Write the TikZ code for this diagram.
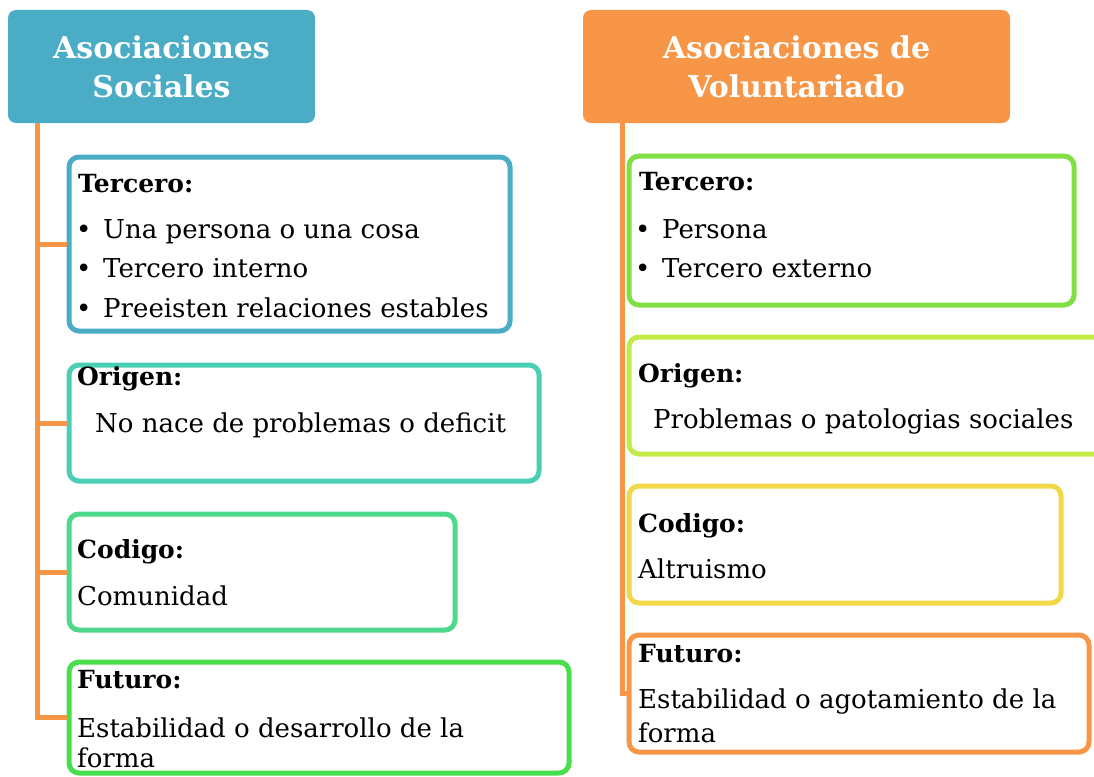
\documentclass[tikz,border=0pt]{standalone}
\usepackage{fontspec}
\setmainfont{DejaVu Serif}
\usetikzlibrary{fit}

\definecolor{hdblue}{HTML}{4BACC6}
\definecolor{hdorange}{HTML}{F79646}
\definecolor{cteal}{HTML}{4BCFB4}
\definecolor{cgreen}{HTML}{4CD98A}
\definecolor{cleaf}{HTML}{48DE4C}
\definecolor{clime}{HTML}{7FE044}
\definecolor{cpale}{HTML}{C2EB48}
\definecolor{cyellow}{HTML}{F0D84A}

\newcommand{\bul}{\makebox[27pt][l]{•}}

\tikzset{
	trunk/.style={draw=hdorange, line width=5pt},
	head/.style={fill=#1, rounded corners=8pt, inner sep=0pt},
	headtxt/.style={anchor=base, inner sep=0pt, text=white, align=center, font=\fontsize{30}{39}\selectfont\bfseries},
	card/.style={draw=#1, line width=5pt, rounded corners=10pt, inner sep=0pt},
	lbl/.style={anchor=base west, inner sep=0pt, font=\fontsize{25}{30}\selectfont\bfseries},
	txt/.style={anchor=base west, inner sep=0pt, align=left, font=\fontsize{26}{#1}\selectfont},
	txt/.default=34
}

\begin{document}
\begin{tikzpicture}[x=1pt, y=-1pt]
			%%%%% START %%%%%
			\useasboundingbox (0,0) rectangle (1094,776);
			
			% headers
			\node[head=hdblue, fit={(8,10) (315,123)}] (socHead) {};
			\node[head=hdorange, fit={(583,10) (1010,123)}] (volHead) {};
			\node[headtxt] (socHeadTxt) at (161.5,97) {Asociaciones\\Sociales};
			\node[headtxt] (volHeadTxt) at (796.5,97) {Asociaciones de\\Voluntariado};
			
			% left column
			\node[card=hdblue, fit={(69,157) (510,331)}] (socTer) {};
			\node[card=cteal, fit={(69,365) (539,481)}] (socOri) {};
			\node[card=cgreen, fit={(69,514) (455,630)}] (socCod) {};
			\node[card=cleaf, fit={(69,662) (569,773)}] (socFut) {};
			
			% right column
			\node[card=clime, fit={(629,156) (1074,305)}] (volTer) {};
			\node[card=cpale, fit={(629,337) (1110,454)}] (volOri) {};
			\node[card=cyellow, fit={(629,486) (1061,603)}] (volCod) {};
			\node[card=hdorange, fit={(629,635) (1089,752)}] (volFut) {};
			
			% trunks
			\coordinate (socTop) at ([xshift=29.5pt]socHead.south west);
			\coordinate (volTop) at ([xshift=40pt]volHead.south west);
			\draw[trunk] (socTop) |- (socFut.west);
			\draw[trunk] (volTop) |- (volFut.west);
			\foreach \b in {socTer,socOri,socCod}
				\draw[trunk] (socTop |- \b.west) -- (\b.west);
			
			% texts left
			\node[lbl] (socTerLbl) at (78,192) {Tercero:};
			\node[txt=39.5] (socTerTxt) at (76,317) {\bul Una persona o una cosa\\\bul Tercero interno\\\bul Preeisten relaciones estables};
			\node[lbl] (socOriLbl) at (77,385) {Origen:};
			\node[txt] (socOriTxt) at (95,432) {No nace de problemas o deficit};
			\node[lbl] (socCodLbl) at (77,558) {Codigo:};
			\node[txt] (socCodTxt) at (77,605) {Comunidad};
			\node[lbl] (socFutLbl) at (77,688) {Futuro:};
			\node[txt=30] (socFutTxt) at (77,767) {Estabilidad o desarrollo de la\\forma};
			
			% texts right
			\node[lbl] (volTerLbl) at (639,190) {Tercero:};
			\node[txt=39] (volTerTxt) at (635,277) {\bul Persona\\\bul Tercero externo};
			\node[lbl] (volOriLbl) at (638,382) {Origen:};
			\node[txt] (volOriTxt) at (653,428) {Problemas o patologias sociales};
			\node[lbl] (volCodLbl) at (638,532) {Codigo:};
			\node[txt] (volCodTxt) at (638,578) {Altruismo};
			\node[lbl] (volFutLbl) at (638,662) {Futuro:};
			\node[txt=34] (volFutTxt) at (638,742) {Estabilidad o agotamiento de la\\forma};
			
			%%%%% END %%%%%
\end{tikzpicture}
\end{document}
